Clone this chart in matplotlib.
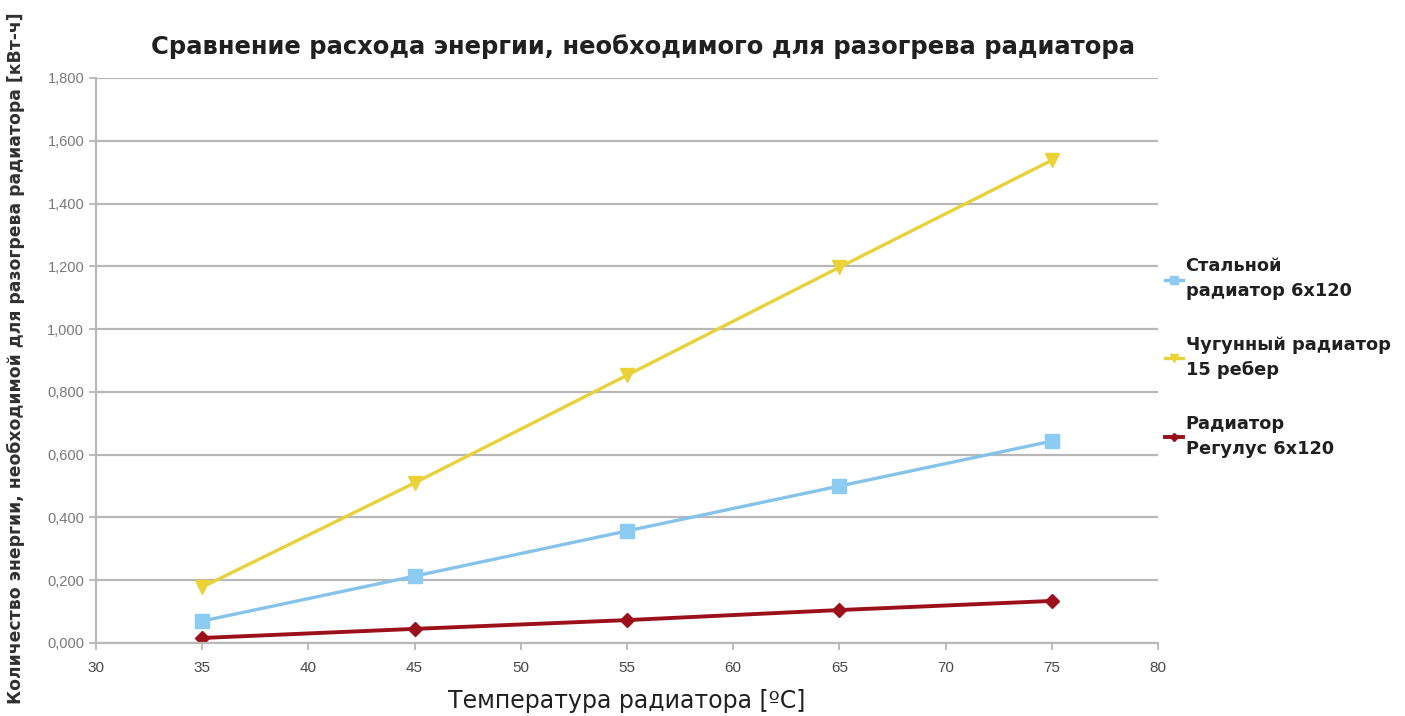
import matplotlib

matplotlib.use("Agg")
import matplotlib.pyplot as plt
from matplotlib.ticker import FuncFormatter, MultipleLocator

plt.rcParams["font.family"] = ["Liberation Sans", "DejaVu Sans"]

# Температура радиатора, °C
temps = [35, 45, 55, 65, 75]

# Расход энергии, кВт-ч
steel = [0.070, 0.213, 0.357, 0.500, 0.643]
cast_iron = [0.178, 0.510, 0.853, 1.197, 1.538]
regulus = [0.016, 0.045, 0.073, 0.105, 0.134]

labels = [
    "Стальной\nрадиатор 6x120",
    "Чугунный радиатор\n15 ребер",
    "Радиатор\nРегулус 6x120",
]

W, H = 1405, 716
fig = plt.figure(figsize=(W / 100, H / 100), dpi=100)
ax = fig.add_axes([96 / W, 1 - 643 / H, (1158 - 96) / W, (643 - 78) / H])

ax.plot(temps, steel, color="#86c3ea", lw=2.4, marker="s", ms=9.5,
        mfc="#8ccbf2", mec="#8ccbf2", label=labels[0])
ax.plot(temps, cast_iron, color="#e8d23c", lw=2.4, marker="v", ms=10,
        mfc="#ecd236", mec="#ecd236", label=labels[1])
ax.plot(temps, regulus, color="#9c101c", lw=2.8, marker="D", ms=7,
        mfc="#9c101c", mec="#9c101c", label=labels[2])

ax.set_xlim(30, 80)
ax.set_ylim(0, 1.8)
ax.xaxis.set_major_locator(MultipleLocator(5))
ax.yaxis.set_major_locator(MultipleLocator(0.2))
ax.yaxis.set_major_formatter(FuncFormatter(lambda v, _: f"{v:,.3f}".replace(".", ",")))

ax.grid(axis="y", color="#b8b8b8", lw=1.6)
ax.set_axisbelow(True)
for side in ("top", "right"):
    ax.spines[side].set_visible(False)
for side in ("left", "bottom"):
    ax.spines[side].set_color("#b8b8b8")
    ax.spines[side].set_linewidth(1.6)
ax.tick_params(axis="both", colors="#b8b8b8", length=5, width=1.3)
ax.tick_params(axis="y", labelcolor="#787878", labelsize=10.5)
ax.tick_params(axis="x", labelcolor="#484848", labelsize=11, pad=8)

ax.set_xlabel("Температура радиатора [ºC]", fontsize=17, color="#202020",
              family=["DejaVu Sans"], labelpad=10)
fig.text(0.011, 0.5, "Количество энергии, необходимой для разогрева радиатора [кВт-ч]",
         rotation=90, ha="center", va="center", fontsize=12.4, fontweight="bold",
         family=["DejaVu Sans"], color="#303030")

fig.suptitle("Сравнение расхода энергии, необходимого для разогрева радиатора",
             x=0.458, y=0.952, fontsize=17.5, fontweight="bold",
             family=["DejaVu Sans"], color="#202020")

leg = ax.legend(loc="upper left", bbox_to_anchor=(1.0, 0.695), frameon=False,
                handlelength=1.0, handletextpad=0.15, labelspacing=2.0,
                prop={"weight": "bold", "size": 12.8, "family": "DejaVu Sans"},
                markerscale=0.55, borderaxespad=0)
for t in leg.get_texts():
    t.set_color("#202020")
    t.set_linespacing(1.5)

fig.savefig("out.png", dpi=100)
